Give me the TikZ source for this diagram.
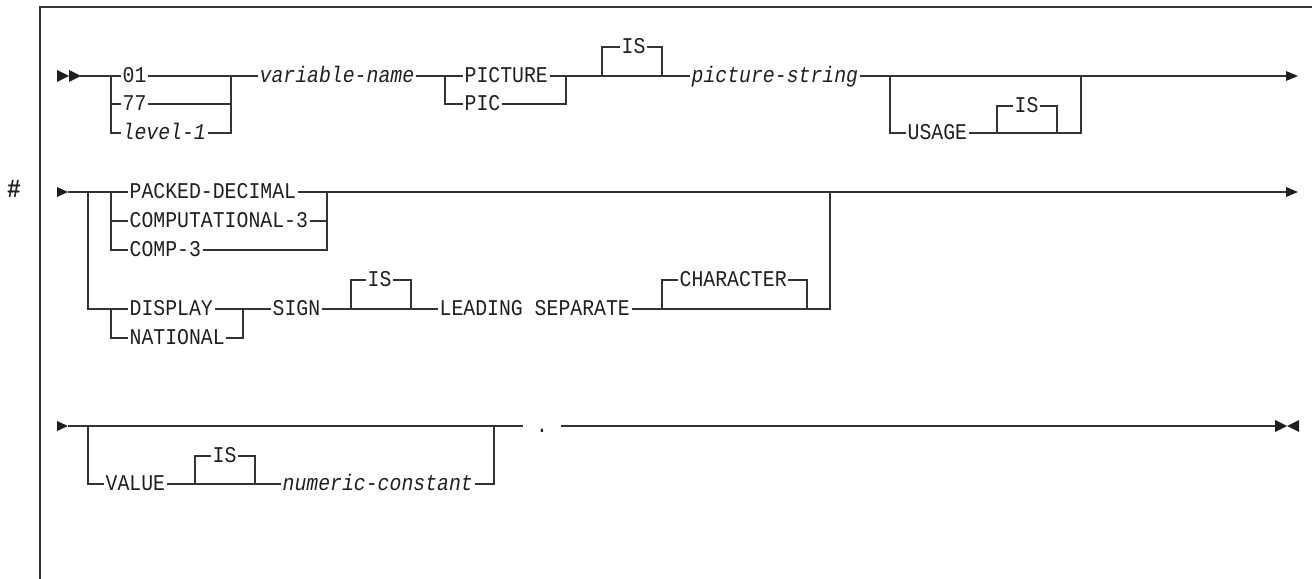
\documentclass[tikz,border=0pt]{standalone}
\usepackage{fontspec}
\newfontfamily\diagfont{Liberation Mono}[FakeStretch=0.88]
\begin{document}
\begin{tikzpicture}[x=1bp,y=-1bp,
  ln/.style={line width=1.3bp, draw=black!80},
  kw/.style={font=\fontsize{22.5bp}{24bp}\selectfont\diagfont, text height=13bp, text depth=0bp,
             inner xsep=1.5bp, inner ysep=0pt, anchor=west, text=black!88},
  var/.style={kw, font=\fontsize{22.5bp}{24bp}\selectfont\diagfont\itshape},
  tip/.style={fill=black!88}]
\useasboundingbox (0,0) rectangle (1312,579);
% frame
\draw[ln] (40,579) -- (40,7) -- (1312,7);
\node[kw, anchor=center, font=\fontsize{26bp}{28bp}\selectfont\diagfont\bfseries] (hash) at (14,191) {\#};

% ---------- row 1 ----------
\coordinate (s1) at (80,76);
\fill[tip] (57,70) -- (69,76) -- (57,82) -- cycle;
\fill[tip] (69,70) -- (81,76) -- (69,82) -- cycle;
\node[kw]  (n01) at (121,76)  {01};
\node[kw]  (n77) at (121,104) {77};
\node[var] (lv1) at (121,133) {level-1};
\node[var] (vn)  at (258,76)  {variable-name};
\node[kw]  (pic) at (463,76)  {PICTURE};
\node[kw]  (pc)  at (463,104) {PIC};
\node[kw]  (is1) at (620,47)  {IS};
\node[var] (ps)  at (690,76)  {picture-string};
\node[kw]  (usg) at (906,133) {USAGE};
\node[kw]  (is2) at (1013,106) {IS};
\coordinate (e1) at (1286,76);

\draw[ln] (s1) -- (n01.west);
\draw[ln] (111,76) |- (lv1.west);
\draw[ln] (111,104) -- (n77.west);
\draw[ln] (n01.east) -- (vn.west);
\draw[ln] (n77.east) -| (231,76);
\draw[ln] (lv1.east) -| (231,76);
\draw[ln] (vn.east) -- (pic.west);
\draw[ln] (445,76) |- (pc.west);
\draw[ln] (pic.east) -- (ps.west);
\draw[ln] (pc.east) -| (566,76);
\draw[ln] (602,76) |- (is1.west);
\draw[ln] (is1.east) -| (662,76);
\draw[ln] (ps.east) -- (e1);
\draw[ln] (890,76) |- (usg.west);
\draw[ln] (usg.east) -| (1081,76);
\draw[ln] (997,133) |- (is2.west);
\draw[ln] (is2.east) -| (1057,133);
\fill[tip] (1286,71) -- (1298,76) -- (1286,81) -- cycle;

% ---------- row 2 ----------
\coordinate (s2) at (68,192);
\fill[tip] (57,187) -- (68,192) -- (57,197) -- cycle;
\node[kw] (pd)   at (128,192) {PACKED-DECIMAL};
\node[kw] (cp3)  at (128,221) {COMPUTATIONAL-3};
\node[kw] (c3)   at (128,250) {COMP-3};
\node[kw] (disp) at (128,309) {DISPLAY};
\node[kw] (nat)  at (128,338) {NATIONAL};
\node[kw] (sign) at (271,309) {SIGN};
\node[kw] (is3)  at (366,280) {IS};
\node[kw] (lead) at (438,309) {LEADING SEPARATE};
\node[kw] (chr)  at (678,280) {CHARACTER};
\coordinate (e2) at (1286,192);

\draw[ln] (s2) -- (pd.west);
\draw[ln] (88,192) |- (disp.west);
\draw[ln] (111,192) |- (c3.west);
\draw[ln] (111,221) -- (cp3.west);
\draw[ln] (111,309) |- (nat.west);
\draw[ln] (pd.east) -- (e2);
\draw[ln] (cp3.east) -| (327,192);
\draw[ln] (c3.east) -| (327,192);
\draw[ln] (disp.east) -- (sign.west);
\draw[ln] (nat.east) -| (243,309);
\draw[ln] (sign.east) -- (lead.west);
\draw[ln] (351,309) |- (is3.west);
\draw[ln] (is3.east) -| (411,309);
\draw[ln] (lead.east) -| (830,192);
\draw[ln] (662,309) |- (chr.west);
\draw[ln] (chr.east) -| (807,309);
\fill[tip] (1286,187) -- (1298,192) -- (1286,197) -- cycle;

% ---------- row 3 ----------
\coordinate (s3) at (68,426);
\fill[tip] (57,421) -- (68,426) -- (57,431) -- cycle;
\node[kw]  (val) at (104,484) {VALUE};
\node[kw]  (is4) at (211,456) {IS};
\node[var] (num) at (281,484) {numeric-constant};
\node[kw, inner xsep=13bp] (dot) at (523,426) {.};
\coordinate (e3) at (1275,426);

\draw[ln] (s3) -- (dot.west);
\draw[ln] (88,426) |- (val.west);
\draw[ln] (val.east) -- (num.west);
\draw[ln] (195,484) |- (is4.west);
\draw[ln] (is4.east) -| (255,484);
\draw[ln] (num.east) -| (494,426);
\draw[ln] (dot.east) -- (e3);
\fill[tip] (1275,420) -- (1287,426) -- (1275,432) -- cycle;
\fill[tip] (1299,420) -- (1287,426) -- (1299,432) -- cycle;
\end{tikzpicture}
\end{document}
